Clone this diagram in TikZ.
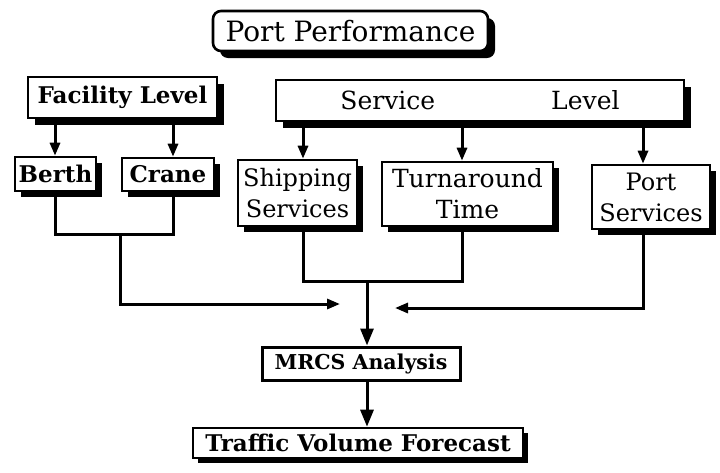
\documentclass[tikz,border=0pt]{standalone}
\usepackage{fontspec}
\setmainfont{DejaVu Serif}
\usetikzlibrary{arrows.meta,shadows}
\tikzset{
  x=1pt,y=-1pt,
  boxshape/.style={draw=black, line width=2.6pt, fill=white, inner sep=0pt, align=center},
  shad/.style={drop shadow={shadow xshift=#1, shadow yshift=-#1, fill=black, opacity=1}},
  shad/.default=7pt,
  regtext/.style={font=\fontsize{24}{31}\selectfont},
  bldtext/.style={font=\bfseries\fontsize{23}{29}\selectfont},
  conn/.style={line width=3pt},
  tip/.style={-{Triangle[length=13pt,width=10pt]}},
  bigtip/.style={-{Triangle[length=17pt,width=13pt]}},
}
\begin{document}
\begin{tikzpicture}
\useasboundingbox (0,0) rectangle (720,472);
% nodes
\node[boxshape, shad, rounded corners=8pt, font=\fontsize{28}{34}\selectfont, minimum width=275pt, minimum height=40pt] (pp) at (350.5,31) {Port Performance};
\node[boxshape, shad, bldtext, minimum width=189pt, minimum height=41pt] (fac) at (122.5,97.5) {Facility Level};
\node[boxshape, shad, font=\fontsize{25}{31}\selectfont, minimum width=408pt, minimum height=41pt] (svc) at (480,100.5) {Service\hspace{116pt}Level};
\node[boxshape, shad=6pt, bldtext, minimum width=81pt, minimum height=34pt] (berth) at (55.5,174) {Berth};
\node[boxshape, shad=6pt, bldtext, minimum width=92pt, minimum height=33pt] (crane) at (168,174.5) {Crane};
\node[boxshape, shad=6pt, regtext, minimum width=119pt, minimum height=66pt] (ship) at (297.5,193) {Shipping\\Services};
\node[boxshape, shad=6pt, font=\fontsize{25}{31}\selectfont, minimum width=171pt, minimum height=64pt] (turn) at (467.5,194) {Turnaround\\Time};
\node[boxshape, shad=6pt, regtext, minimum width=118pt, minimum height=64pt] (port) at (651,197) {Port\\Services};
\node[boxshape, line width=3pt, font=\bfseries\fontsize{20.5}{24}\selectfont, minimum width=198pt, minimum height=33pt] (mrcs) at (361,363.5) {MRCS Analysis};
\node[boxshape, shad=5pt, bldtext, minimum width=330pt, minimum height=30pt] (tvf) at (358,443) {Traffic Volume Forecast};
% junction coordinates
\coordinate (fb) at (55,234);
\coordinate (fc) at (173,234);
\coordinate (fj) at (120,234);
\coordinate (fk) at (120,304);
\coordinate (fe) at (340,304);
\coordinate (sa) at (303,281);
\coordinate (sb) at (462,281);
\coordinate (sj) at (367,281);
\coordinate (pa) at (643,308);
\coordinate (pe) at (395,308);
% top arrows
\draw[conn, tip] (fac.south -| fb) -- (berth.north -| fb);
\draw[conn, tip] (fac.south -| fc) -- (crane.north -| fc);
\draw[conn, tip] (svc.south -| sa) -- (ship.north -| sa);
\draw[conn, tip] (svc.south -| sb) -- (turn.north -| sb);
\draw[conn, tip] (svc.south -| pa) -- (port.north -| pa);
% brackets
\draw[conn] (berth.south -| fb) -- (fb) -- (fc) -- (crane.south -| fc);
\draw[conn, tip] (fj) -- (fk) -- (fe);
\draw[conn] (ship.south -| sa) -- (sa) -- (sb) -- (turn.south -| sb);
\draw[conn, bigtip] (sj) -- (mrcs.north -| sj);
\draw[conn, tip] (port.south -| pa) -- (pa) -- (pe);
\draw[conn, bigtip] (mrcs.south -| sj) -- (tvf.north -| sj);
\end{tikzpicture}
\end{document}
